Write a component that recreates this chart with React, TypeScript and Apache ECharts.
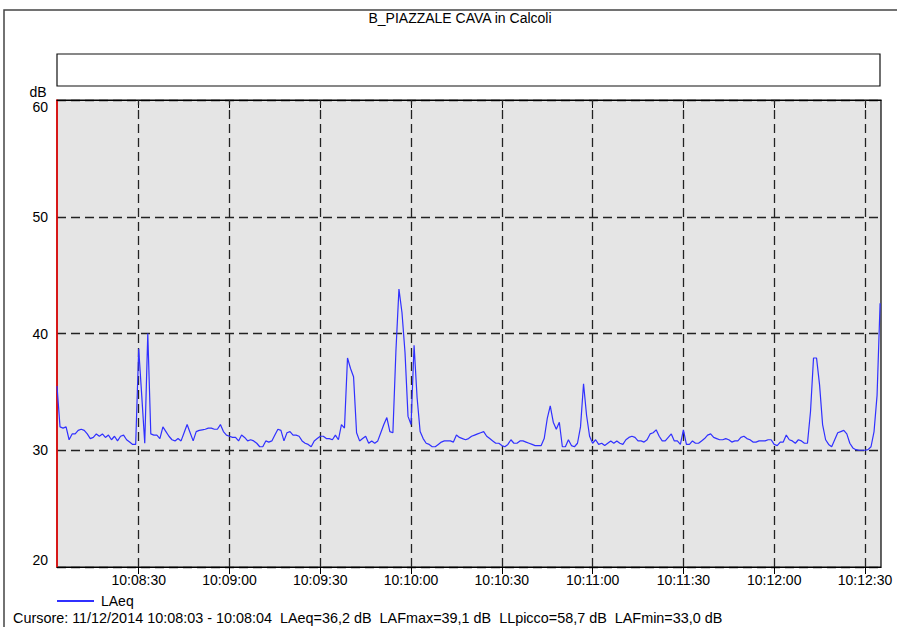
import React, { useEffect, useRef } from "react";
import * as echarts from "echarts";

const TITLE = "B_PIAZZALE CAVA in Calcoli";
const START_TIME = "10:08:03";
const END_OFFSET = 272.3; // seconds shown after START_TIME
const SERIES_NAME = "LAeq";
const FOOTER =
  "Cursore: 11/12/2014 10:08:03 - 10:08:04  LAeq=36,2 dB  LAFmax=39,1 dB  LLpicco=58,7 dB  LAFmin=33,0 dB";

const X_TICK_LABELS = [
  "10:08:30",
  "10:09:00",
  "10:09:30",
  "10:10:00",
  "10:10:30",
  "10:11:00",
  "10:11:30",
  "10:12:00",
  "10:12:30",
];
const Y_MIN = 20;
const Y_MAX = 60;
const Y_STEP = 10;

// LAeq, one value per second from 10:08:03
const LAEQ = [
  35.5, 32.0, 31.9, 32.0, 30.9, 31.4, 31.4, 31.7, 31.8, 31.7,
  31.4, 31.0, 31.1, 31.4, 31.2, 31.4, 31.1, 31.3, 30.9, 31.2,
  30.8, 31.2, 31.3, 30.9, 30.7, 30.5, 30.5, 38.7, 34.7, 30.6,
  40.0, 31.4, 31.3, 31.3, 31.0, 32.0, 31.6, 31.2, 30.9, 30.8,
  31.0, 30.8, 31.5, 32.2, 31.5, 30.8, 31.6, 31.7, 31.75, 31.8,
  31.9, 31.9, 31.8, 31.8, 32.2, 31.6, 31.3, 31.2, 31.1, 31.1,
  30.8, 31.3, 31.1, 30.8, 30.9, 30.8, 30.6, 30.3, 30.3, 30.8,
  30.7, 30.8, 31.3, 31.8, 31.7, 30.8, 31.5, 31.6, 31.3, 31.3,
  31.2, 30.8, 30.6, 30.5, 30.3, 30.8, 31.0, 31.2, 31.2, 31.0,
  31.0, 30.9, 31.3, 30.9, 32.2, 31.9, 37.9, 37.0, 36.3, 31.5,
  30.8, 31.0, 31.2, 30.6, 30.8, 30.6, 30.8, 31.5, 32.2, 32.8,
  31.6, 31.5, 38.5, 43.8, 41.8, 38.4, 32.9, 32.2, 39.0, 34.5,
  31.6, 31.0, 30.6, 30.5, 30.3, 30.3, 30.5, 30.7, 30.8, 30.8,
  30.8, 30.7, 31.3, 31.1, 31.0, 30.9, 31.0, 31.2, 31.3, 31.4,
  31.5, 31.6, 31.2, 31.0, 30.8, 30.6, 30.6, 30.4, 30.3, 30.5,
  30.9, 30.6, 30.6, 30.8, 30.8, 30.7, 30.6, 30.5, 30.4, 30.4,
  30.4, 31.0, 32.7, 33.8, 32.4, 31.8, 32.4, 30.3, 30.3, 30.9,
  30.4, 30.3, 30.6, 32.0, 35.7, 33.0, 31.2, 30.6, 30.9, 30.5,
  30.6, 30.4, 30.6, 30.8, 30.6, 30.8, 30.6, 30.5, 30.9, 31.1,
  31.2, 31.1, 30.8, 30.8, 30.7, 30.9, 31.4, 31.5, 31.75, 31.2,
  30.8, 30.8, 31.1, 31.4, 30.8, 30.8, 30.5, 31.75, 30.5, 30.5,
  30.8, 30.6, 30.6, 30.8, 31.0, 31.3, 31.4, 31.1, 31.0, 30.9,
  30.9, 31.0, 30.9, 30.7, 30.8, 30.8, 31.1, 31.2, 31.0, 30.9,
  30.7, 30.7, 30.8, 30.8, 30.8, 30.9, 30.9, 30.5, 30.4, 30.7,
  30.7, 31.3, 30.9, 30.8, 30.6, 30.9, 30.8, 30.6, 30.6, 33.3,
  37.9, 37.9, 35.6, 32.2, 30.9, 30.5, 30.3, 30.9, 31.5, 31.6,
  31.7, 31.4, 30.6, 30.2, 30.05, 30.0, 30.0, 30.0, 30.05, 30.3,
  31.6, 34.7, 42.6,
];

const toSec = (s: string) => {
  const [h, m, sec] = s.split(":").map(Number);
  return h * 3600 + m * 60 + sec;
};
const pad = (n: number) => String(n).padStart(2, "0");
const fmt = (v: number) => {
  const t = Math.round(v);
  return `${pad(Math.floor(t / 3600))}:${pad(Math.floor((t % 3600) / 60))}:${pad(t % 60)}`;
};

const FONT = "'Liberation Sans', Arial, sans-serif";

export default function App() {
  const ref = useRef<HTMLDivElement>(null);
  useEffect(() => {
    if (!ref.current) return;
    const chart = echarts.init(ref.current, undefined, { renderer: "svg" });
    const start = toSec(START_TIME);
    const tickSecs = X_TICK_LABELS.map(toSec);
    const data = LAEQ.map((v, i) => [start + i, v]);
    const gridStyle = { color: "#222", width: 1.3, type: [9, 5] as number[] };

    chart.setOption({
      animation: false,
      textStyle: { fontFamily: FONT },
      grid: {
        left: 57,
        top: 100,
        width: 824,
        height: 467,
        show: true,
        backgroundColor: "#e5e5e5",
        borderColor: "#000",
        borderWidth: 1.2,
      },
      legend: {
        left: 57,
        top: 593,
        padding: 0,
        icon: "rect",
        itemWidth: 37,
        itemHeight: 2,
        itemGap: 10,
        textStyle: { fontSize: 14, color: "#000", fontFamily: FONT, lineHeight: 16, padding: [0, 0, 0, 2] },
        data: [SERIES_NAME],
      },
      xAxis: [
        {
          type: "value",
          min: start,
          max: start + END_OFFSET,
          axisLine: { show: true, lineStyle: { color: "#000", width: 1.2 } },
          axisTick: { show: true, customValues: tickSecs, length: 7, lineStyle: { color: "#000" } },
          axisLabel: {
            customValues: tickSecs,
            formatter: (v: number) => fmt(v),
            fontSize: 14,
            color: "#000",
            margin: 6,
            fontFamily: FONT,
          },
          splitLine: { show: false },
        },
        {
          type: "value",
          position: "top",
          min: start,
          max: start + END_OFFSET,
          axisLine: { show: true, lineStyle: { color: "#000", width: 1.2 } },
          axisTick: { show: true, inside: true, customValues: tickSecs, length: 8, lineStyle: { color: "#000" } },
          axisLabel: { show: false },
          splitLine: { show: false },
        },
      ],
      yAxis: {
        type: "value",
        min: Y_MIN,
        max: Y_MAX,
        interval: Y_STEP,
        axisLine: { show: true, lineStyle: { color: "#ff0000", width: 1.5 } },
        axisTick: { show: false },
        axisLabel: {
          fontSize: 14,
          color: "#000",
          margin: 9,
          fontFamily: FONT,
          verticalAlignMaxLabel: "top",
          verticalAlignMinLabel: "bottom",
        },
        splitLine: { show: true, lineStyle: gridStyle },
      },
      series: [
        {
          name: SERIES_NAME,
          type: "line",
          data,
          showSymbol: false,
          symbol: "none",
          color: "#3030ff",
          lineStyle: { color: "#3030ff", width: 1.2 },
          clip: true,
          z: 5,
          markLine: {
            silent: true,
            symbol: "none",
            label: { show: false },
            lineStyle: gridStyle,
            data: tickSecs.map((s) => ({ xAxis: s })),
            z: 1,
          },
        },
      ],
      graphic: [
        {
          type: "rect",
          shape: { x: 4, y: 10, width: 930, height: 640 },
          style: { fill: "none", stroke: "#444", lineWidth: 1.5 },
          silent: true,
        },
        {
          type: "rect",
          shape: { x: 57, y: 54, width: 823, height: 32 },
          style: { fill: "#fff", stroke: "#111", lineWidth: 1.2 },
          silent: true,
        },
        {
          type: "text",
          x: 460,
          y: 18,
          style: {
            text: TITLE,
            font: `14px ${FONT}`,
            fill: "#000",
            textAlign: "center",
            textVerticalAlign: "middle",
          },
        },
        {
          type: "text",
          x: 38,
          y: 92,
          style: {
            text: "dB",
            font: `14px ${FONT}`,
            fill: "#000",
            textAlign: "center",
            textVerticalAlign: "middle",
          },
        },
        {
          type: "text",
          x: 13,
          y: 618,
          style: {
            text: FOOTER,
            font: `14.4px ${FONT}`,
            fill: "#000",
            textAlign: "left",
            textVerticalAlign: "middle",
          },
        },
      ],
    });
    return () => chart.dispose();
  }, []);
  return (
    <div
      ref={ref}
      style={{ position: "fixed", left: 0, top: 0, width: 897, height: 627, background: "#fff" }}
    />
  );
}
